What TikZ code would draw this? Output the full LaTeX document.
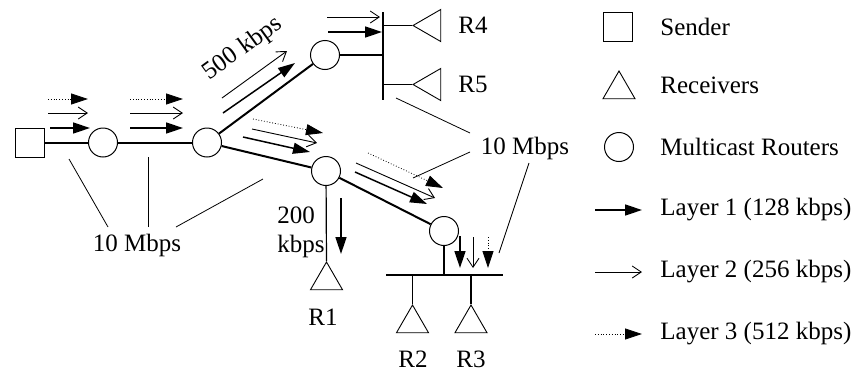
\documentclass[tikz,border=0pt]{standalone}
\usepackage{fontspec}
\setmainfont{Liberation Serif}
\usepackage{tikz}
\usetikzlibrary{
	shapes.geometric,
	arrows.meta,
	positioning,
	calc
}

\begin{document}
\begin{tikzpicture}[
				x=0.5pt, y=-0.5pt,
				font=\fontsize{12.5}{14.5}\selectfont,
				router/.style={
					circle, draw, line width=0.5pt,
					minimum size=14.5pt, inner sep=0pt
				},
				sender/.style={
					rectangle, draw, line width=0.5pt,
					minimum size=14.5pt, inner sep=0pt
				},
				recv/.style={
					regular polygon, regular polygon sides=3, draw,
					line width=0.45pt, minimum size=18.5pt, inner sep=0pt
				},
				recvleft/.style={
					recv, shape border rotate=90
				},
				link/.style={line width=1pt},
				wire/.style={line width=0.6pt},
				leader/.style={line width=0.4pt},
				layerone/.style={-{Triangle[length=8.5pt, width=5.5pt]}, line width=0.75pt},
				layertwo/.style={-{Straight Barb[length=4.5pt, width=6pt]}, line width=0.45pt},
				layerthree/.style={-{Triangle[length=8.5pt, width=5.5pt]}, line width=0.4pt, densely dotted},
				txt/.style={inner sep=1pt},
				]
				\useasboundingbox (0,0) rectangle (858,370);
				
				%nodes
				\node[sender] (snd) at (29.5,142.5) {};
				\node[router] (rt1) at (103,142.5) {};
				\node[router] (rt2) at (207,142.5) {};
				\node[router] (rt3) at (325,55) {};
				\node[router] (rt4) at (326,171) {};
				\node[router] (rt5) at (444,231) {};
				
				\node[recv] (r1) at (326.5,280.5) {};
				\node[recv] (r2) at (412.5,323.5) {};
				\node[recv] (r3) at (471,323.5) {};
				\node[recvleft] (r4) at (431.5,25.5) {};
				\node[recvleft] (r5) at (431.5,84.5) {};
				
				%buses
				\coordinate (busTtop) at (383,12);
				\coordinate (busTbot) at (383,100);
				\coordinate (busBL) at (386,275);
				\coordinate (busBR) at (503,275);
				\draw[wire] (busTtop) -- (busTbot);
				\draw[wire] (busBL) -- (busBR);
				
				%links
				\draw[link] (snd) -- (rt1);
				\draw[link] (rt1) -- (rt2);
				\draw[link] (rt2) -- (rt3);
				\draw[link] (rt2) -- (rt4);
				\draw[link] (rt4) -- (rt5);
				\draw[wire] (rt3) -- (rt3 -| busTtop);
				\draw[wire] (r4.corner 1 -| busTtop) -- (r4.corner 1);
				\draw[wire] (r5.corner 1 -| busTtop) -- (r5.corner 1);
				\draw[wire] (rt4) -- (r1.corner 1);
				\draw[wire] (rt5) -- (rt5 |- busBL);
				\draw[wire] (r2.corner 1 |- busBL) -- (r2.corner 1);
				\draw[wire] (r3.corner 1 |- busBL) -- (r3.corner 1);
				
				%labels
				\node[txt, anchor=west] (r4lbl) at (456,25.5) {R4};
				\node[txt, anchor=west] (r5lbl) at (456,84.5) {R5};
				\node[txt] (r1lbl) at (323,317) {R1};
				\node[txt] (r2lbl) at (413,359) {R2};
				\node[txt] (r3lbl) at (471,359) {R3};
				\node[txt, rotate=36] (kbpsTop) at (243,49) {500 kbps};
				\node[txt, align=left, anchor=west] (kbpsR1) at (275,232) {200\\kbps};
				\node[txt] (tenL) at (137,245) {10 Mbps};
				\node[txt] (tenR) at (525,148) {10 Mbps};
				
				%leader lines
				\draw[leader] (108,227) -- (69,159);
				\draw[leader] (148,227) -- (148,157);
				\draw[leader] (176,227) -- (263,179);
				\draw[leader] (470,133) -- (396,98);
				\draw[leader] (470,152) -- (413,178);
				\draw[leader] (529,163) -- (499,253);
				
				%layer arrows
				\draw[layerthree] (48,99) -- (88,99);
				\draw[layertwo] (48,113) -- (88,113);
				\draw[layerone] (50,128) -- (90,128);
				
				\draw[layerthree] (130,99) -- (183,99);
				\draw[layertwo] (130,113) -- (183,113);
				\draw[layerone] (130,128) -- (183,128);
				
				\draw[layertwo] (222,98) -- (287,51);
				\draw[layerone] (223,113) -- (295,63);
				
				\draw[layerthree] (253,119) -- (323,133);
				\draw[layertwo] (252,129) -- (317,143);
				\draw[layerone] (243,137) -- (310,152);
				
				\draw[layerthree] (368,153) -- (443,188);
				\draw[layertwo] (356,163) -- (435,198);
				\draw[layerone] (355,172) -- (427,204);
				
				\draw[layertwo] (327,17) -- (380,17);
				\draw[layerone] (328,32) -- (382,32);
				
				\draw[layerone] (341,198) -- (341,254);
				
				\draw[layerone] (460,236) -- (460,268);
				\draw[layertwo] (473,237) -- (473,268);
				\draw[layerthree] (488,237) -- (488,268);
				
				%legend
				\node[sender] (lgsnd) at (618,27) {};
				\node[recv] (lgrecv) at (619,89.5) {};
				\node[router] (lgrt) at (619,147) {};
				\coordinate (lgone) at (595,210);
				\coordinate (lgtwo) at (595,272);
				\coordinate (lgthree) at (595,334);
				\draw[layerone] (lgone) -- ++(47,0);
				\draw[layertwo] (lgtwo) -- ++(47,0);
				\draw[layerthree] (lgthree) -- ++(47,0);
				\node[txt, anchor=west] at (658,27) {Sender};
				\node[txt, anchor=west] at (658,85) {Receivers};
				\node[txt, anchor=west] at (658,147) {Multicast Routers};
				\node[txt, anchor=west] at (658,210) {Layer 1 (128 kbps)};
				\node[txt, anchor=west] at (658,272) {Layer 2 (256 kbps)};
				\node[txt, anchor=west] at (658,334) {Layer 3 (512 kbps)};
			\end{tikzpicture}
\end{document}
